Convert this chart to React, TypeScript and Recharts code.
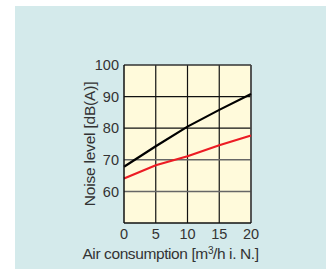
import React from 'react';
import { LineChart, Line, XAxis, YAxis, CartesianGrid, ReferenceLine } from 'recharts';

const airConsumption = [0, 5, 10, 15, 20];
const noiseUpper = [67.8, 74.3, 80.5, 85.8, 90.8];
const noiseLower = [64.1, 68.3, 71.1, 74.6, 77.7];
const xTicks = [0, 5, 10, 15, 20];
const yTicks = [60, 70, 80, 90, 100];
const xGrid = [5, 10, 15];
const yGridDark = [80, 90];
const yGridGray = [60, 70];

const data = airConsumption.map((x, i) => ({ x, upper: noiseUpper[i], lower: noiseLower[i] }));

const FONT = '"Liberation Sans", Arial, sans-serif';

export default function App() {
  return (
    <div style={{ position: 'absolute', left: 0, top: 0, width: 326, height: 269, background: '#ffffff', overflow: 'hidden' }}>
      <div style={{ position: 'absolute', left: 15, top: 6, width: 311, height: 263, background: '#d4eaeb' }} />
      <div style={{ position: 'absolute', left: 0, top: 0 }}>
        <LineChart width={326} height={269} data={data} margin={{ top: 65, right: 75, bottom: 0, left: 0 }}>
          <CartesianGrid horizontal={false} vertical={false} fill="#fffadb" fillOpacity={1} />
          {xGrid.map((v) => (
            <ReferenceLine key={'x' + v} x={v} stroke="#111" strokeWidth={1.2} />
          ))}
          {yGridDark.map((v) => (
            <ReferenceLine key={v} y={v} stroke="#111" strokeWidth={1.2} />
          ))}
          {yGridGray.map((v) => (
            <ReferenceLine key={v} y={v} stroke="#666" strokeWidth={1.5} />
          ))}
          <ReferenceLine y={100} stroke="#333" strokeWidth={1.5} />
          <ReferenceLine x={20} stroke="#444" strokeWidth={1.8} />
          <XAxis
            dataKey="x"
            type="number"
            domain={[0, 20]}
            ticks={xTicks}
            height={46}
            tickSize={0}
            tickMargin={6}
            axisLine={{ stroke: '#111', strokeWidth: 1.5 }}
            tick={{ fill: '#333', fontSize: 14.5, fontFamily: FONT }}
            label={(props: any) => {
              const vb = props.viewBox;
              return (
                <text x={vb.x + vb.width / 2 - 17} y={vb.y + 36} textAnchor="middle" fill="#333" fontSize={15.5} letterSpacing={-0.4} fontFamily={FONT}>
                  Air consumption [m<tspan fontSize={10} dy={-5}>3</tspan><tspan dy={5}>/h i. N.]</tspan>
                </text>
              );
            }}
          />
          <YAxis
            type="number"
            domain={[50, 100]}
            ticks={yTicks}
            width={124}
            tickSize={0}
            tickMargin={5}
            axisLine={{ stroke: '#111', strokeWidth: 1.5 }}
            tick={{ fill: '#333', fontSize: 14.5, fontFamily: FONT }}
            label={(props: any) => {
              const vb = props.viewBox;
              const cx = vb.x + vb.width - 35;
              const cy = vb.y + vb.height / 2;
              return (
                <text x={cx} y={cy} transform={`rotate(-90 ${cx} ${cy})`} textAnchor="middle" dominantBaseline="central" fill="#333" fontSize={15.5} letterSpacing={-0.2} fontFamily={FONT}>
                  Noise level [dB(A)]
                </text>
              );
            }}
          />
          <Line dataKey="lower" stroke="#ec1c24" strokeWidth={2.2} dot={false} isAnimationActive={false} />
          <Line dataKey="upper" stroke="#000" strokeWidth={2.2} dot={false} isAnimationActive={false} />
        </LineChart>
      </div>
    </div>
  );
}
